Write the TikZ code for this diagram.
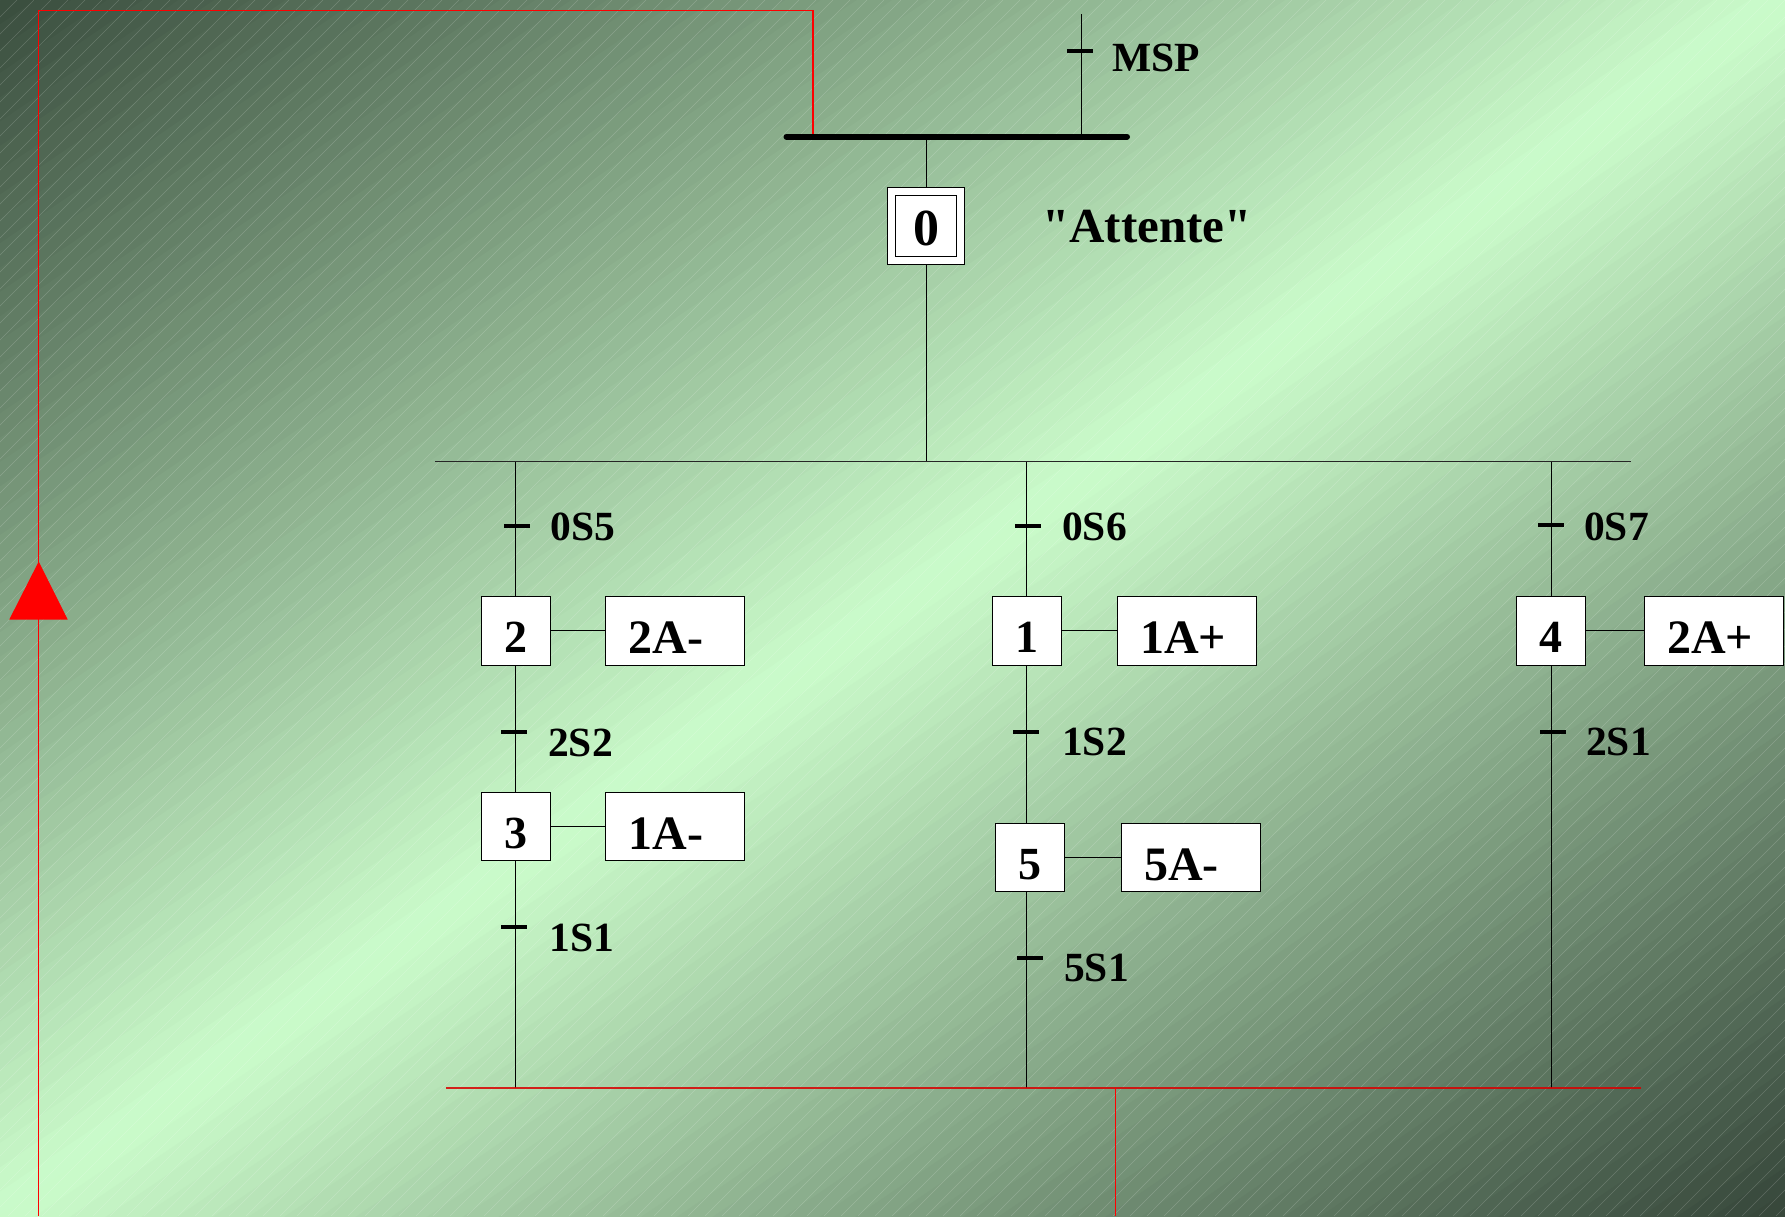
\documentclass[tikz,border=0pt]{standalone}
\usepackage{fontspec}
\setmainfont{Liberation Serif}
\newfontfamily\plainquotes{Liberation Serif}[Ligatures=TeXOff]
\definecolor{bgdark}{HTML}{3A4D3E}
\definecolor{bgdarkb}{HTML}{36463A}
\definecolor{bglight}{HTML}{CBFCCB}
\tikzset{
  stepbox/.style={draw=black, fill=white, line width=1pt, minimum width=69pt, minimum height=68.3pt,
    inner sep=0pt, text height=56pt, text depth=12.3pt, font=\fontsize{46}{50}\selectfont\bfseries},
  stepzero/.style={draw=black, fill=white, line width=1pt, minimum width=77pt, minimum height=77pt,
    inner sep=0pt, text height=57.5pt, text depth=19.5pt, font=\fontsize{52}{56}\selectfont\bfseries},
  actbox/.style={draw=black, fill=white, line width=1pt, minimum width=139pt, minimum height=68.3pt,
    inner ysep=0pt, inner xsep=23pt, text width=93pt, align=left,
    text height=57pt, text depth=11.3pt, font=\fontsize{48}{52}\selectfont\bfseries},
  tlabel/.style={anchor=base west, inner sep=0pt, font=\fontsize{41.5}{46}\selectfont\bfseries},
  trbar/.style={fill=black, draw=none, minimum width=26pt, minimum height=4pt, inner sep=0pt},
  link/.style={draw=black, line width=1pt},
  redline/.style={draw=red, line width=1.2pt},
}
\begin{document}
\begin{tikzpicture}[x=1pt, y=-1pt]
\useasboundingbox (0,0) rectangle (1785,1216);
% background
\begin{scope}
  \clip (0,0) rectangle (1785,1216);
  \foreach \i in {0,...,99} {
    \pgfmathsetmacro\ta{\i/50}
    \pgfmathsetmacro\tb{(\i+1.6)/50}
    \pgfmathsetmacro\tm{(\i+0.5)/50}
    \pgfmathsetmacro\pc{100*(1-abs(\tm-1))}
    \ifdim \tm pt<1pt \colorlet{stripc}{bglight!\pc!bgdark}\else\colorlet{stripc}{bglight!\pc!bgdarkb}\fi
    \fill[stripc] ({1785*(\ta+1)},-1216) -- ({1785*(\ta-3)},3648) -- ({1785*(\tb-3)},3648) -- ({1785*(\tb+1)},-1216) -- cycle;
  }
  \foreach \c in {0,17,...,3001} {
    \draw[white, opacity=0.18, line width=0.5pt] (\c,0) -- ({\c-1216},1216);
  }
\end{scope}

% coordinates
\coordinate (bar-l) at (786.5,136.7);
\coordinate (bar-r) at (1127,136.7);
\coordinate (msp-top) at (1081.5,14);
\coordinate (div-l) at (435,461.5);
\coordinate (div-r) at (1630.7,461.5);
\coordinate (rl-l) at (446.3,1087.7);
\coordinate (rl-r) at (1641.3,1087.7);
\coordinate (r-out) at (1115.2,1087.7);
\coordinate (r-bot) at (1115.2,1216);
\coordinate (r-bl) at (38.7,1216);
\coordinate (r-tl) at (38.7,10.2);
\coordinate (r-tr) at (813,10.2);
\coordinate (r-in) at (813,134);

% steps
\node[stepzero] (S0) at (926,226) {0};
\draw[line width=1pt] ([shift={(8.5,8.5)}]S0.north west) rectangle ([shift={(-8.5,-8.5)}]S0.south east);
\node[stepbox] (S2) at (515.5,630.85) {2};
\node[stepbox] (S3) at (515.5,826.5) {3};
\node[stepbox] (S1) at (1026.5,630.85) {1};
\node[stepbox] (S5) at (1029.8,857.8) {5};
\node[stepbox] (S4) at (1551,630.85) {4};

% actions
\node[actbox] (A2) at (675.2,630.85) {2A-};
\node[actbox] (A3) at (675.2,826.5) {1A-};
\node[actbox] (A1) at (1186.8,630.85) {1A+};
\node[actbox] (A5) at (1190.8,857.8) {5A-};
\node[actbox] (A4) at (1713.5,630.85) {2A+};

% synchronisation bar and links
\draw[line width=6pt, line cap=round] (bar-l) -- (bar-r);
\draw[link] (msp-top) -- (msp-top |- bar-l);
\draw[link] (S0.north) -- (S0.north |- bar-l);
\draw[link] (S0.south) -- (S0.south |- div-l);
\draw[draw=black!85, line width=1.6pt] (div-l) -- (div-r);

\draw[link] (S2.north |- div-l) -- (S2.north);
\draw[link] (S2.south) -- (S3.north);
\draw[link] (S3.south) -- (S3.south |- rl-l);
\draw[link] (S1.north |- div-l) -- (S1.north);
\draw[link] (S1.south) -- (S1.south |- S5.north);
\draw[link] (S1.south |- S5.south) -- (S1.south |- rl-l);
\draw[link] (S4.north |- div-l) -- (S4.north);
\draw[link] (S4.south) -- (S4.south |- rl-l);

\draw[link] (S2.east) -- (A2.west);
\draw[link] (S3.east) -- (A3.west);
\draw[link] (S1.east) -- (A1.west);
\draw[link] (S5.east) -- (A5.west);
\draw[link] (S4.east) -- (A4.west);

% transitions
\node[trbar] (tMSP) at (1080.2,51) {};
\node[trbar] (t05) at (516.7,525.7) {};
\node[trbar] (t22) at (514.2,731.7) {};
\node[trbar] (t11) at (514.2,927.3) {};
\node[trbar] (t06) at (1028.3,525.7) {};
\node[trbar] (t12) at (1025.8,731.7) {};
\node[trbar] (t51) at (1029.5,958.3) {};
\node[trbar] (t07) at (1550.5,525.2) {};
\node[trbar] (t21) at (1552.5,731.7) {};

\node[tlabel] (lMSP) at (1112.5,71) {MSP};
\node[tlabel] (l05) at (550.5,540.7) {0S5};
\node[tlabel] (l22) at (548,756.7) {2S2};
\node[tlabel] (l11) at (549.5,951) {1S1};
\node[tlabel] (l06) at (1062,540) {0S6};
\node[tlabel] (l12) at (1062,755) {1S2};
\node[tlabel] (l51) at (1064,981.7) {5S1};
\node[tlabel] (l07) at (1584,540) {0S7};
\node[tlabel] (l21) at (1586,755) {2S1};
\node[anchor=base west, inner sep=0pt, font=\fontsize{49}{55}\plainquotes\selectfont\bfseries] (att) at (1042,242.7) {"Attente"};

% red loop
\draw[draw=red!85!black, line width=2pt, opacity=0.85] (rl-l) -- (rl-r);
\draw[redline] (r-out) -- (r-bot);
\draw[redline] (r-bl) -- (r-tl) -- (r-tr) -- (r-in);
\fill[red] (38.7,561.5) -- (9.3,619.5) -- (67.7,619.5) -- cycle;
\end{tikzpicture}
\end{document}
